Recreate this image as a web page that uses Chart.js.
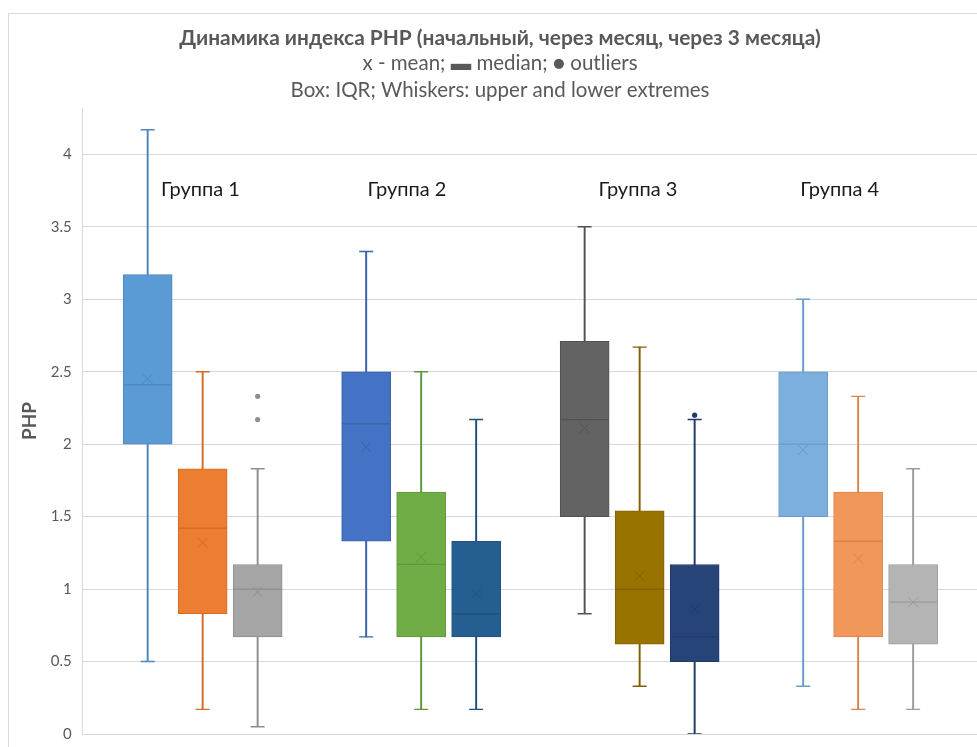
<!DOCTYPE html>
<html>
<head>
<meta charset="utf-8">
<title>Динамика индекса PHP</title>
<script src="https://cdn.jsdelivr.net/npm/chart.js@4/dist/chart.umd.min.js"></script>
<style>
  html, body { margin: 0; padding: 0; background: #ffffff; overflow: hidden; }
  #chart { display: block; }
</style>
</head>
<body>
<canvas id="chart" width="977" height="747"></canvas>
<script>
// ---- data: rows are periods, columns are groups ----
const groups = ['Группа 1', 'Группа 2', 'Группа 3', 'Группа 4'];
const periods = ['начальный', 'через месяц', 'через 3 месяца'];

const whiskerLow  = [[0.50, 0.67, 0.83, 0.33], [0.17, 0.17, 0.33, 0.17], [0.05, 0.17, 0.00, 0.17]];
const quartile1   = [[2.00, 1.33, 1.50, 1.50], [0.83, 0.67, 0.62, 0.67], [0.67, 0.67, 0.50, 0.62]];
const medians     = [[2.41, 2.14, 2.17, 2.00], [1.42, 1.17, 1.00, 1.33], [1.00, 0.83, 0.67, 0.91]];
const quartile3   = [[3.17, 2.50, 2.71, 2.50], [1.83, 1.67, 1.54, 1.67], [1.17, 1.33, 1.17, 1.17]];
const whiskerHigh = [[4.17, 3.33, 3.50, 3.00], [2.50, 2.50, 2.67, 2.33], [1.83, 2.17, 2.17, 1.83]];
const means       = [[2.45, 1.98, 2.11, 1.96], [1.32, 1.22, 1.09, 1.21], [0.98, 0.97, 0.86, 0.91]];
const outliers    = [[[], [], [], []], [[], [], [], []], [[2.33, 2.17], [], [2.20], []]];

const yTicks = [0, 0.5, 1, 1.5, 2, 2.5, 3, 3.5, 4];

// ---- styling ----
const boxFill = [
  ['#5B9BD5', '#4472C4', '#636363', '#7CAFDD'],
  ['#ED7D31', '#70AD47', '#997300', '#F1975A'],
  ['#A5A5A5', '#255E91', '#264478', '#B4B4B4']
];
const boxLine = [
  ['#4E86BE', '#3A62AA', '#525252', '#6A9ACA'],
  ['#D56C27', '#5F973B', '#806000', '#D9844B'],
  ['#8E8E8E', '#1F5080', '#1F3A68', '#9C9C9C']
];

const BOX_SPACING = 0.2517;          // distance between neighbouring boxes, in group units
const X_RANGE = [-0.549, 3.544];     // visible extent of the group axis
const Y_RANGE = [0, 4.32];
const xOf = (p, g) => g + (p - 1) * BOX_SPACING;

const datasets = [];
periods.forEach((name, p) => {
  // whisker stem from lower to upper extreme (the box covers its middle)
  datasets.push({
    type: 'bar', label: name + ' (whiskers)', grouped: false, order: 6,
    data: groups.map((_, g) => ({ x: xOf(p, g), y: [whiskerLow[p][g], whiskerHigh[p][g]] })),
    backgroundColor: boxLine[p], borderWidth: 0, barThickness: 1.3
  });
  // interquartile box
  datasets.push({
    type: 'bar', label: name, grouped: false, order: 5,
    data: groups.map((_, g) => ({ x: xOf(p, g), y: [quartile1[p][g], quartile3[p][g]] })),
    backgroundColor: boxFill[p], borderColor: boxLine[p], borderWidth: 1,
    borderSkipped: false, barThickness: 49
  });
  // median line across the box
  datasets.push({
    type: 'scatter', label: name + ' (median)', order: 4, showLine: false,
    data: groups.map((_, g) => ({ x: xOf(p, g), y: medians[p][g] })),
    pointStyle: 'line', pointRadius: 24, pointBorderWidth: 1.3,
    pointBorderColor: boxLine[p]
  });
  // whisker caps
  datasets.push({
    type: 'scatter', label: name + ' (caps)', order: 3, showLine: false,
    data: groups.flatMap((_, g) => [
      { x: xOf(p, g), y: whiskerLow[p][g] },
      { x: xOf(p, g), y: whiskerHigh[p][g] }
    ]),
    pointStyle: 'line', pointRadius: 7, pointBorderWidth: 1.4,
    pointBorderColor: groups.flatMap((_, g) => [boxLine[p][g], boxLine[p][g]])
  });
  // mean marker
  datasets.push({
    type: 'scatter', label: name + ' (mean)', order: 2, showLine: false,
    data: groups.map((_, g) => ({ x: xOf(p, g), y: means[p][g] })),
    pointStyle: 'crossRot', pointRadius: 7, pointBorderWidth: 1,
    pointBorderColor: boxLine[p]
  });
  // outliers
  datasets.push({
    type: 'scatter', label: name + ' (outliers)', order: 1, showLine: false,
    data: groups.flatMap((_, g) => outliers[p][g].map(v => ({ x: xOf(p, g), y: v }))),
    pointStyle: 'circle', pointRadius: 2.6, pointBorderWidth: 0,
    pointBackgroundColor: groups.flatMap((_, g) => outliers[p][g].map(() => boxLine[p][g]))
  });
});

// outer frame of the chart object
const framePlugin = {
  id: 'frame',
  beforeDraw(chart) {
    const ctx = chart.ctx;
    ctx.save();
    ctx.strokeStyle = '#d9d9d9';
    ctx.lineWidth = 1;
    ctx.strokeRect(8.5, 13.5, 2000, 2000);
    ctx.restore();
  }
};

// three-line heading
const headingPlugin = {
  id: 'heading',
  afterDraw(chart, args, opts) {
    const ctx = chart.ctx;
    ctx.save();
    ctx.fillStyle = '#595959';
    ctx.textAlign = 'center';
    ctx.textBaseline = 'middle';
    opts.lines.forEach(l => {
      ctx.font = l.font;
      ctx.fillText(l.text, opts.x, l.y);
    });
    ctx.restore();
  }
};

// group names placed inside the plot area
const groupLabelPlugin = {
  id: 'groupLabels',
  afterDatasetsDraw(chart, args, opts) {
    const { ctx, scales: { x, y } } = chart;
    ctx.save();
    ctx.fillStyle = '#1a1a1a';
    ctx.font = opts.font;
    ctx.textAlign = 'center';
    ctx.textBaseline = 'middle';
    groups.forEach((name, g) => {
      ctx.fillText(name, x.getPixelForValue(g + opts.shift[g]), y.getPixelForValue(opts.level));
    });
    ctx.restore();
  }
};

new Chart(document.getElementById('chart'), {
  type: 'bar',
  data: { datasets },
  plugins: [framePlugin, headingPlugin, groupLabelPlugin],
  options: {
    responsive: false,
    animation: false,
    events: [],
    devicePixelRatio: 1,
    layout: { autoPadding: false, padding: { left: 14, right: 0, top: 108, bottom: 13 } },
    scales: {
      x: {
        type: 'linear', display: false, offset: false, bounds: 'data',
        min: X_RANGE[0], max: X_RANGE[1],
        afterBuildTicks(axis) {
          axis.min = X_RANGE[0];
          axis.max = X_RANGE[1];
          axis.ticks = [];
        },
        afterFit(axis) { axis.paddingLeft = 0; axis.paddingRight = 0; }
      },
      y: {
        type: 'linear', bounds: 'data', min: Y_RANGE[0], max: Y_RANGE[1],
        afterBuildTicks(axis) {
          axis.min = Y_RANGE[0];
          axis.max = Y_RANGE[1];
          axis.ticks = yTicks.map(v => ({ value: v }));
        },
        afterFit(axis) {
          axis.width = 68.7;
          axis.paddingTop = 0;
          axis.paddingBottom = 0;
        },
        grid: { color: '#d9d9d9', lineWidth: 1, drawTicks: false },
        border: { display: true, color: '#d9d9d9', width: 1 },
        ticks: {
          padding: 11, color: '#595959',
          font: { family: 'Lato', size: 15 },
          callback: v => String(v)
        },
        title: {
          display: true, text: 'PHP', color: '#595959',
          font: { family: 'Lato', size: 19, weight: 'bold' },
          padding: { top: 4, bottom: 0 }
        }
      }
    },
    plugins: {
      legend: { display: false },
      tooltip: { enabled: false },
      heading: {
        x: 500,
        lines: [
          { text: 'Динамика индекса PHP (начальный, через месяц, через 3 месяца)', y: 38, font: 'bold 20.9px Lato' },
          { text: 'x - mean; \u25AC median; \u25CF outliers', y: 63, font: '20.5px Lato' },
          { text: 'Box: IQR; Whiskers: upper and lower extremes', y: 90, font: '20.5px Lato' }
        ]
      },
      groupLabels: {
        font: '20px Lato',
        level: 3.76,
        shift: [-0.01, -0.065, -0.008, -0.084]
      }
    }
  }
});
</script>
</body>
</html>
